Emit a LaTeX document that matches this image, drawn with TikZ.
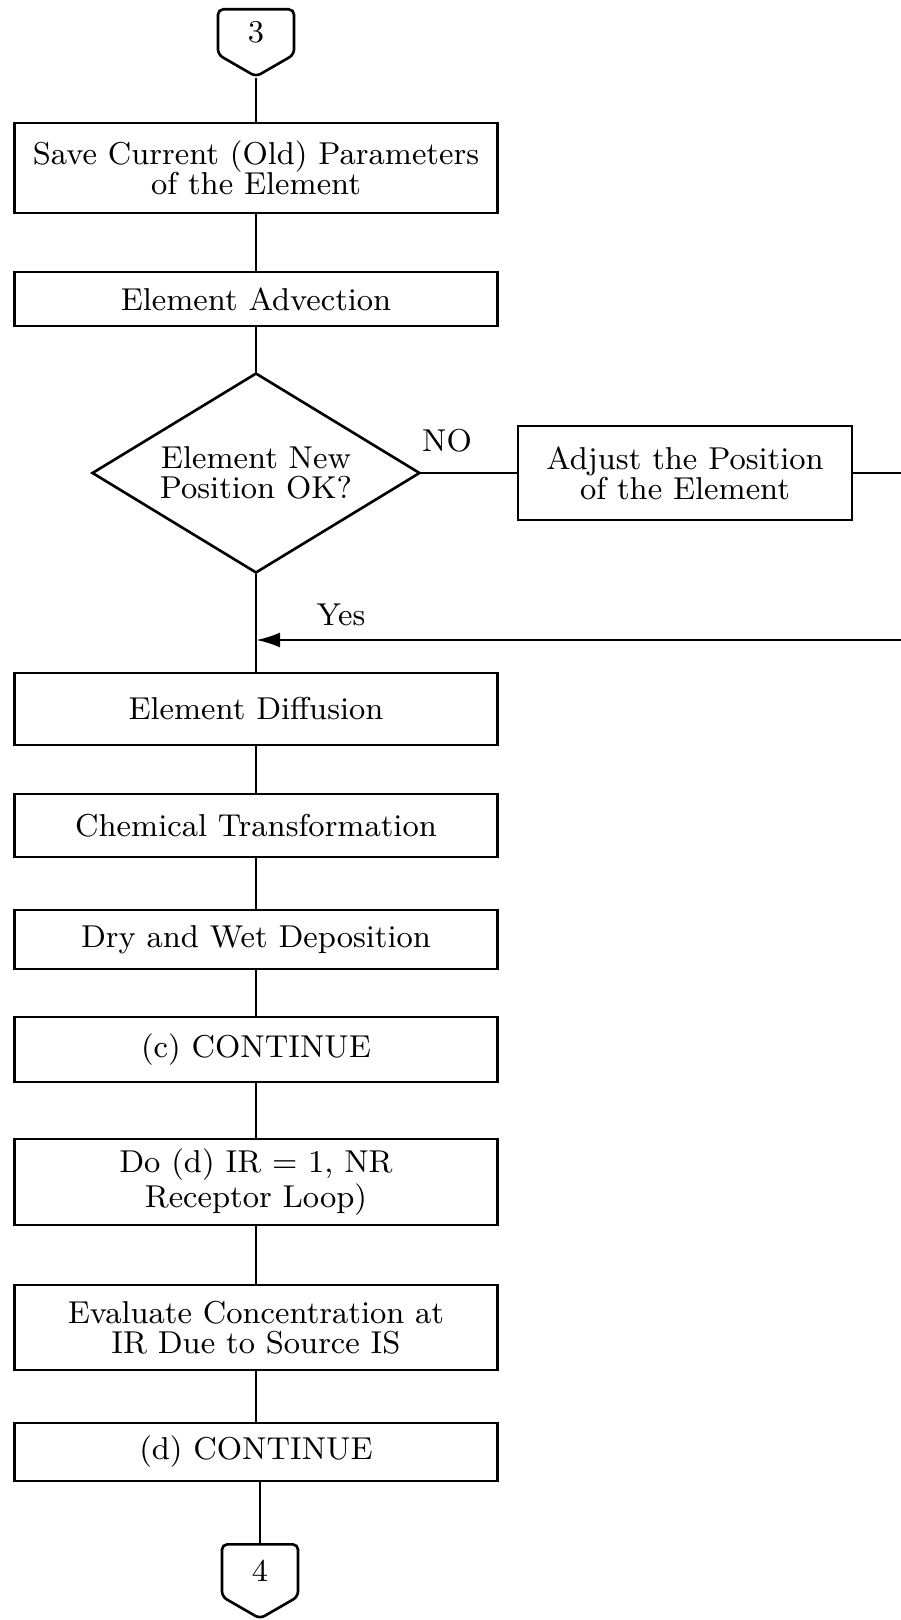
\documentclass[tikz,border=0pt]{standalone}
\usetikzlibrary{shapes.geometric,shapes.symbols,arrows.meta}

\newcommand{\fcfont}{\fontsize{9pt}{8.6pt}\selectfont}

\tikzset{
  fcbox/.style={draw, line width=.75pt, rectangle, minimum width=4.83cm, inner sep=0pt, align=center, font=\fcfont},
  fcdecision/.style={draw, line width=.75pt, diamond, aspect=1.64, minimum width=3.28cm, minimum height=2cm, inner sep=0pt, align=center, font=\fcfont},
  fcconnector/.style={draw, line width=.75pt, signal, signal to=south, signal pointer angle=120, rounded corners=1.5pt, minimum width=.76cm, inner sep=0pt, font=\fcfont},
  fcline/.style={line width=.75pt},
  fclabel/.style={inner sep=0pt, font=\fcfont}
}

\begin{document}
\begin{tikzpicture}[x=1cm, y=1cm]
\useasboundingbox (0,0) rectangle (9,-16.2);

\node[fcconnector, minimum height=.50cm, anchor=north] (c3) at (2.56,-0.08) {3};
\node[fcbox, minimum height=.90cm] (save) at (2.56,-1.68) {Save Current (Old) Parameters\\of the Element};
\node[fcbox, minimum height=.54cm] (advect) at (2.56,-2.99) {Element Advection};
\node[fcdecision] (newpos) at (2.56,-4.73) {Element New\\Position OK?};
\node[fcbox, minimum width=3.34cm, minimum height=.94cm] (adjust) at (6.85,-4.73) {Adjust the Position\\of the Element};

\node[fcbox, minimum height=.72cm] (diffuse) at (2.56,-7.09) {Element Diffusion};
\node[fcbox, minimum height=.63cm] (chem) at (2.56,-8.255) {Chemical Transformation};
\node[fcbox, minimum height=.59cm] (depos) at (2.56,-9.395) {Dry and Wet Deposition};
\node[fcbox, minimum height=.65cm] (ccont) at (2.56,-10.495) {(c) CONTINUE};
\node[fcbox, minimum height=.86cm] (rloop) at (2.56,-11.82) {Do (d) IR = 1, NR\\Receptor Loop)};
\node[fcbox, minimum height=.85cm] (conc) at (2.56,-13.275) {Evaluate Concentration at\\IR Due to Source IS};
\node[fcbox, minimum height=.58cm] (dcont) at (2.56,-14.52) {(d) CONTINUE};
\node[fcconnector, minimum height=.57cm, anchor=north] (c4) at (2.60,-15.43) {4};

\node[fclabel] (no) at (4.47,-4.41) {NO};
\node[fclabel] (yes) at (3.41,-6.15) {Yes};

\coordinate (rtop) at (9.3,-4.73);
\coordinate (rbot) at (9.3,-6.40);
\coordinate (join) at (2.56,-6.40);

\draw[fcline] (c3.south) -- (save.north);
\draw[fcline] (save) -- (advect);
\draw[fcline] (advect) -- (newpos);
\draw[fcline] (newpos) -- (diffuse);
\draw[fcline] (newpos) -- (adjust);
\draw[fcline] (adjust) -- (rtop) -- (rbot);
\draw[fcline, -{Latex[length=2.4mm, width=1.5mm]}] (rbot) -- (join);

\draw[fcline] (diffuse) -- (chem);
\draw[fcline] (chem) -- (depos);
\draw[fcline] (depos) -- (ccont);
\draw[fcline] (ccont) -- (rloop);
\draw[fcline] (rloop) -- (conc);
\draw[fcline] (conc) -- (dcont);
\draw[fcline] (dcont.south -| c4.north) -- (c4.north);
\end{tikzpicture}
\end{document}
